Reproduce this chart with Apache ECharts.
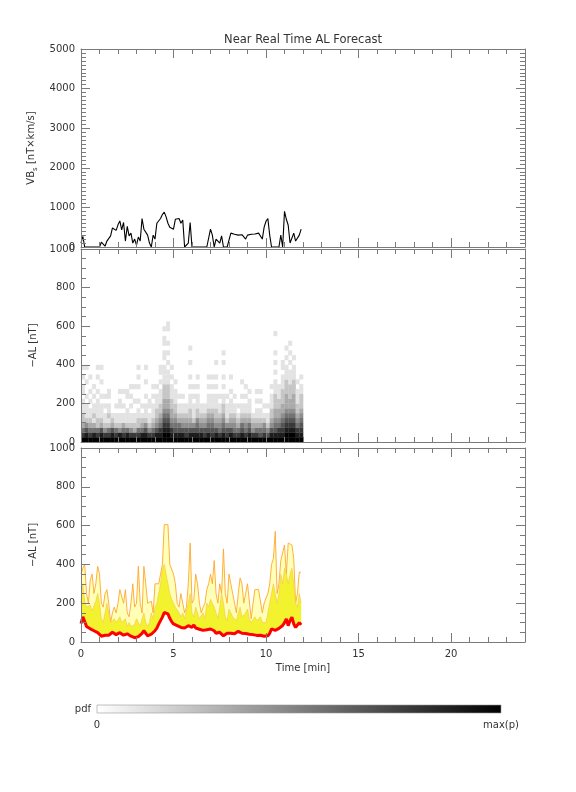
<!DOCTYPE html>
<html><head><meta charset="utf-8">
<script src="https://cdn.jsdelivr.net/npm/echarts@6/dist/echarts.min.js"></script>
<style>html,body{margin:0;padding:0;background:#fff}#c{width:576px;height:792px}</style>
</head><body><div id="c"></div>
<script>
// ---------- data ----------
const timeStep = 0.1; // minutes between samples
const vbs = [
  100, 270, 0, 0, 0, 0, 0, 0, 0, 0,
  0, 120, 170, 20, 150, 200, 280, 480, 520, 420,
  560, 660, 430, 620, 150, 520, 280, 350, 100, 200,
  50, 250, 150, 720, 450, 420, 300, 100, 0, 300,
  200, 600, 650, 720, 820, 880, 760, 600, 500, 530,
  450, 700, 650, 720, 600, 680, 0, 0, 100, 620,
  0, 0, 0, 40, 0, 0, 0, 0, 0, 0,
  450, 300, 0, 200, 250, 100, 280, 0, 0, 0,
  0, 350, 400, 320, 330, 300, 270, 310, 280, 200,
  300, 280, 320, 300, 330, 280, 350, 400, 200, 500,
  650, 720, 300, 0, 0, 0, 0, 0, 300, 0,
  900, 700, 550, 100, 50, 350, 150, 200, 300, 450
];
const alMode = [
  95, 130, 120, 80, 70, 68, 62, 58, 55, 48,
  40, 30, 25, 35, 45, 35, 40, 50, 45, 38,
  42, 48, 40, 35, 38, 42, 35, 30, 25, 22,
  30, 28, 38, 45, 58, 50, 32, 35, 40, 48,
  58, 72, 92, 110, 128, 152, 150, 145, 122, 105,
  93, 88, 84, 80, 75, 78, 72, 80, 84, 78,
  75, 88, 72, 70, 66, 72, 60, 58, 63, 70,
  67, 62, 58, 45, 35, 50, 42, 32, 38, 45,
  50, 45, 40, 42, 48, 55, 58, 45, 40, 44,
  50, 40, 32, 38, 40, 34, 28, 35, 40, 30,
  23, 32, 45, 68, 67, 60, 58, 70, 75, 85,
  100, 119, 84, 110, 128, 93, 75, 85, 100, 88
];
const alMid = [
  200, 300, 210, 180, 170, 190, 160, 170, 210, 250,
  200, 120, 100, 150, 200, 210, 100, 90, 120, 100,
  110, 130, 100, 90, 120, 80, 100, 80, 70, 90,
  120, 130, 80, 120, 150, 100, 80, 100, 150, 120,
  180, 200, 250, 300, 380, 400, 350, 300, 250, 220,
  200, 180, 170, 150, 130, 150, 120, 130, 200, 250,
  150, 130, 180, 150, 120, 130, 150, 120, 200, 180,
  220, 200, 180, 150, 120, 180, 250, 200, 130, 110,
  170, 150, 130, 120, 110, 150, 180, 130, 120, 150,
  170, 120, 100, 110, 130, 110, 120, 130, 100, 90,
  100, 150, 200, 250, 300, 250, 200, 250, 350, 300,
  380, 350, 300, 350, 380, 300, 200, 180, 250, 200
];
const alHigh = [
  350, 380, 400, 250, 200, 320, 350, 250, 300, 390,
  350, 200, 180, 250, 270, 200, 100, 150, 180, 150,
  200, 270, 270, 200, 270, 150, 130, 200, 300, 180,
  200, 390, 200, 150, 390, 300, 200, 210, 210, 150,
  300, 300, 300, 350, 400, 605, 605, 605, 400, 400,
  350, 300, 200, 180, 250, 200, 150, 180, 300, 510,
  200, 220, 350, 300, 200, 150, 180, 200, 270, 300,
  350, 300, 420, 250, 200, 300, 250, 480, 250, 200,
  350, 300, 250, 200, 150, 250, 330, 300, 200, 250,
  300, 300, 120, 200, 270, 270, 270, 270, 150, 200,
  200, 250, 300, 400, 430, 570, 250, 300, 420, 420,
  500, 350, 510, 510, 500, 430, 200, 250, 360, 360
];
// pdf columns: one string per 0.2-min column, one digit per 25 nT bin from the bottom (0 = empty, 9 = max)
const pdfColStep = 0.2;
const pdfBin = 25;
const pdfCols = [
  "9753221110110101", "9864211101001001", "97532110101001", "98531211010100",
  "9752211110100101", "9863211101001001", "9742110101", "97521211011",
  "986321", "97521101", "98421101101", "97531101001",
  "98521110011", "974211010101", "973211001001", "9752211010010101",
  "98532101", "9864211101001001", "974211011", "975321110101",
  "986432211101", "9875432211101011", "998765433222111101101101", "9987654332221110101010011",
  "9875433221110101", "98654322111010", "9865321101", "9864321101",
  "97643211", "98643221110101001001", "986421110101", "98654221110101",
  "98643211", "97643211", "98654321110101", "97654321110101",
  "98643221110101001", "9754321101", "9865432211010100101", "9764211101",
  "98643211101001", "9754321101", "97532101", "9865321101001",
  "975432110101", "986532111010", "974321", "97532110101",
  "96532110101", "97542101", "96421101", "986432211101",
  "98654332221110101010001", "987543322111", "98765433222111011", "99876543332221110101",
  "998765433222111010101", "998765433322211101", "98754322111010", "98765432221101"
];
const xTickLabels = [0, 5, 10, 15, 20];
const titleText = "Near Real Time AL Forecast";

// ---------- chart ----------
const FONT = "DejaVu Sans";
const AX = "#7a7a7a";
const TX = "#333";
const grids = [
  {left: 81, top: 49, width: 444, height: 198},
  {left: 81, top: 249, width: 444, height: 193},
  {left: 81, top: 448, width: 444, height: 194}
];
const yCfg = [
  {min: 0, max: 5000, interval: 1000, minor: 10},
  {min: 0, max: 1000, interval: 200, minor: 4},
  {min: 0, max: 1000, interval: 200, minor: 4}
];
const yNames = [
  "{a|VB}{s|s}{a| [nT×km/s]}",
  "{a|−AL [nT]}",
  "{a|−AL [nT]}"
];
const xAxes = [], yAxes = [];
grids.forEach((g, gi) => {
  ["bottom", "top"].forEach(pos => {
    xAxes.push({
      type: "value", gridIndex: gi, position: pos, min: 0, max: 24, interval: 1, z: 10,
      axisLine: {show: true, onZero: false, lineStyle: {color: AX, width: 1}},
      axisTick: {show: true, inside: true, length: 5, lineStyle: {color: AX}},
      axisLabel: {show: false}, splitLine: {show: false}
    });
    const isLab = (gi === 2 && pos === "bottom");
    xAxes.push({
      type: "value", gridIndex: gi, position: pos, min: 0, max: 24, interval: 5, z: 10,
      axisLine: {show: false, onZero: false},
      axisTick: {show: true, inside: true, length: 9, lineStyle: {color: AX}},
      axisLabel: {show: isLab, color: TX, fontFamily: FONT, fontSize: 10, margin: 7,
        customValues: xTickLabels, formatter: v => String(v)},
      splitLine: {show: false},
      name: isLab ? "Time [min]" : "", nameLocation: "middle", nameGap: 21,
      nameTextStyle: {color: TX, fontFamily: FONT, fontSize: 10}
    });
  });
  const c = yCfg[gi];
  ["left", "right"].forEach(pos => {
    const isL = pos === "left";
    yAxes.push({
      type: "value", gridIndex: gi, position: pos, min: c.min, max: c.max, interval: c.interval, z: 10,
      axisLine: {show: true, onZero: false, lineStyle: {color: AX, width: 1}},
      axisTick: {show: true, inside: true, length: 9, lineStyle: {color: AX}},
      minorTick: {show: true, splitNumber: c.minor, length: 5, lineStyle: {color: AX}},
      axisLabel: {show: isL, color: TX, fontFamily: FONT, fontSize: 10, margin: 6, formatter: v => String(v)},
      splitLine: {show: false},
      name: isL ? yNames[gi] : "", nameLocation: "middle", nameGap: 33, nameRotate: 90,
      nameTextStyle: {rich: {
        a: {color: TX, fontFamily: FONT, fontSize: 10},
        s: {color: TX, fontFamily: FONT, fontSize: 7, padding: [7, 0, 0, 0]}
      }}
    });
  });
});

const vbsData = vbs.map((v, i) => [i * timeStep, v]);
const modeData = alMode.map((v, i) => [i * timeStep, v]);
const midData = alMid.map((v, i) => [i * timeStep, v]);
const highData = alHigh.map((v, i) => [i * timeStep, v]);

const pdfData = [];
pdfCols.forEach((col, j) => {
  for (let k = 0; k < col.length; k++) {
    const lv = +col[k];
    if (lv > 0) pdfData.push([j * pdfColStep, k * pdfBin, lv]);
  }
});

const series = [
  {type: "line", xAxisIndex: 0, yAxisIndex: 0, data: vbsData, showSymbol: false, symbol: "none",
   lineStyle: {color: "#000", width: 1.1}, z: 5, animation: false},
  {type: "custom", xAxisIndex: 4, yAxisIndex: 2, data: pdfData, encode: {x: 0, y: 1},
   renderItem: function (params, api) {
     const t = api.value(0), y = api.value(1), lv = api.value(2);
     const p0 = api.coord([t, y + pdfBin]);
     const p1 = api.coord([t + pdfColStep, y]);
     const g = Math.round(255 - lv * 28.3);
     return {type: "rect", shape: {x: p0[0], y: p0[1], width: p1[0] - p0[0] + 0.3, height: p1[1] - p0[1] + 0.3},
       style: {fill: "rgb(" + g + "," + g + "," + g + ")"}};
   }, animation: false, z: 2},
  // pale band up to the upper bound
  {type: "line", xAxisIndex: 8, yAxisIndex: 4, data: highData, symbol: "none",
   lineStyle: {color: "#FFA730", width: 0.9}, areaStyle: {color: "#FFFFB8", opacity: 1}, animation: false, z: 2},
  // bright yellow band
  {type: "line", xAxisIndex: 8, yAxisIndex: 4, data: midData, symbol: "none",
   lineStyle: {color: "#F8C858", width: 0.7}, areaStyle: {color: "#F2F22E", opacity: 1}, animation: false, z: 3},
  // blank below the most probable value
  {type: "line", xAxisIndex: 8, yAxisIndex: 4, data: modeData, symbol: "none",
   lineStyle: {width: 0, opacity: 0}, areaStyle: {color: "#FFFFFF", opacity: 1}, animation: false, z: 4},
  {type: "line", xAxisIndex: 8, yAxisIndex: 4, data: modeData, symbol: "none",
   lineStyle: {color: "#FF0000", width: 3}, animation: false, z: 6}
];

const chart = echarts.init(document.getElementById("c"), null, {renderer: "canvas"});
chart.setOption({
  backgroundColor: "#fff",
  animation: false,
  grid: grids.map(g => Object.assign({containLabel: false}, g)),
  xAxis: xAxes,
  yAxis: yAxes,
  series: series,
  graphic: [
    {type: "text", x: 303, y: 40, style: {text: titleText, fill: TX, font: "11.5px " + FONT, textAlign: "center", textVerticalAlign: "middle"}},
    {type: "rect", shape: {x: 97, y: 705, width: 404, height: 8},
     style: {fill: new echarts.graphic.LinearGradient(0, 0, 1, 0, [{offset: 0, color: "#ffffff"}, {offset: 1, color: "#000000"}]),
       stroke: "#999", lineWidth: 0.6}},
    {type: "text", x: 91, y: 709, style: {text: "pdf", fill: TX, font: "10px " + FONT, textAlign: "right", textVerticalAlign: "middle"}},
    {type: "text", x: 97, y: 725, style: {text: "0", fill: TX, font: "10px " + FONT, textAlign: "center", textVerticalAlign: "middle"}},
    {type: "text", x: 501, y: 725, style: {text: "max(p)", fill: TX, font: "10px " + FONT, textAlign: "center", textVerticalAlign: "middle"}}
  ]
});
</script>
</body></html>
